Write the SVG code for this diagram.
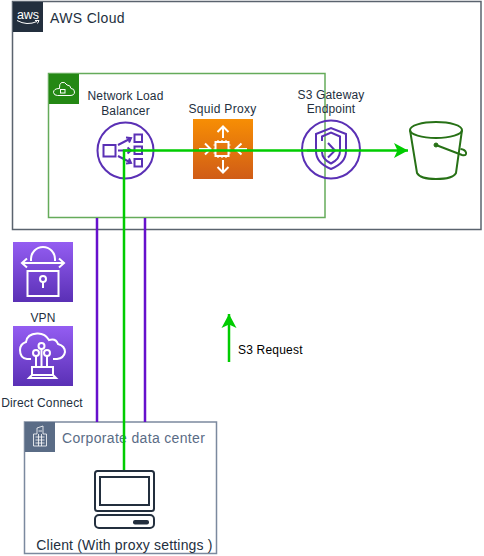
<svg xmlns="http://www.w3.org/2000/svg" width="484" height="556" viewBox="0 0 484 556">
<style>
text{font-family:"Liberation Sans",Arial,sans-serif;font-size:12px;fill:#232F3E;letter-spacing:.17px}
.c{text-anchor:middle}
.w{fill:none;stroke:#fff;stroke-width:2}
.p{fill:none;stroke:#5A30B5;stroke-width:2}
.g{fill:none;stroke:#277116;stroke-width:2}
.d{fill:none;stroke:#232F3E;stroke-width:2}
.vpnline{stroke:#6610CC;stroke-width:2.500;fill:none}
.req{stroke:#00CC00;stroke-width:2.500;fill:none}
</style>
<defs>
<linearGradient id="org" x1="0" y1="0" x2="0" y2="1"><stop offset="0" stop-color="#F78E04"/><stop offset="1" stop-color="#D05C17"/></linearGradient>
<linearGradient id="pur" x1="0" y1="0" x2="0" y2="1"><stop offset="0" stop-color="#945DF2"/><stop offset="1" stop-color="#5A30B5"/></linearGradient>
<marker id="ah" markerUnits="userSpaceOnUse" markerWidth="16" markerHeight="16" refX="14" refY="8" orient="auto"><path d="M0 0.500L14 8L0 15.500L3.500 8Z" fill="#00CC00"/></marker>
</defs>

<g id="aws-cloud">
<rect x="12.500" y="1.500" width="468.500" height="228" fill="#fff" stroke="#232F3E" stroke-opacity=".75" stroke-width="1.500"/>
<rect x="13" y="2" width="30" height="30" fill="#232F3E"/>
<text x="28" y="18.500" class="c" style="font-size:12.500px;fill:#fff;letter-spacing:0">aws</text>
<path d="M17 20.500Q27 26 37 21.500M35 20.500L39 20.500L37.500 23.500" fill="none" stroke="#fff" stroke-width="1"/>
<text x="50" y="23" style="font-size:14px;letter-spacing:.35px">AWS Cloud</text>
</g>

<g id="vpc">
<rect x="48.500" y="73.500" width="276.500" height="144" fill="none" stroke="#248814" stroke-opacity=".7" stroke-width="1.500"/>
<rect x="49" y="74" width="30" height="30" fill="#248814"/>
<path d="M57.500 95.500H70Q74.500 95.500 74.500 92Q74.500 88.500 71 88.500Q70.500 85 67 85Q65 81.500 61.500 82.500Q59 84 59.500 88.500Q53.500 88.500 53.500 92.500Q54 95.500 57.500 95.500Z" fill="none" stroke="#fff" stroke-width="1"/>
<rect x="60.500" y="89.500" width="4.500" height="3.500" fill="none" stroke="#fff" stroke-width="1"/>
</g>

<g id="nlb">
<circle cx="125.500" cy="150.500" r="28" class="p"/>
<rect x="103.500" y="145" width="12" height="11.500" class="p"/>
<rect x="134.500" y="134.500" width="7.500" height="7.500" class="p"/>
<rect x="134.500" y="146.500" width="7.500" height="7.500" class="p"/>
<rect x="134.500" y="159" width="7.500" height="7.500" class="p"/>
<path d="M118 145L130.500 138.500M126 137.500L131 138L129 142.500M118 150.500H130.500M127.500 147.500L131 150.500L127.500 153.500M118 156L130.500 162.500M129 158.500L131 163L126 163.500" class="p"/>
<text x="125.500" y="100" class="c">Network Load</text>
<text x="125.500" y="115" class="c">Balancer</text>
</g>

<g id="squid">
<rect x="193" y="119" width="60" height="60" fill="url(#org)"/>
<rect x="215.500" y="142" width="13" height="14" class="w"/>
<path d="M215.500 145H213.500M215.500 149H213.500M215.500 153H213.500M228.500 145H230.500M228.500 149H230.500M228.500 153H230.500M218 142V140M222 142V140M226 142V140M218 156V158M222 156V158M226 156V158" class="w" style="stroke-width:1.200"/>
<path d="M223 138V126.500M217.500 132L223 126.500L228.500 132M223 160V172.500M217.500 167L223 172.500L228.500 167M199 149H210M205 143.500L210.500 149L205 154.500M247 149H235.500M241.500 143.500L235.500 149L241.500 154.500" class="w"/>
<text x="222.500" y="113" class="c" style="letter-spacing:.3px">Squid Proxy</text>
</g>

<g id="s3-endpoint">
<circle cx="331" cy="149.500" r="29" class="p"/>
<path d="M316 134L331 128L346 134V151Q346 163 331 169Q316 163 316 151Z" class="p"/>
<path d="M322 141V136.500L331 132.500L340 136.500V151Q340 159 331 163.500Q322 159 322 152" class="p"/>
<path d="M334 150.500H307M328 143L335 150.500L328 157.500" class="p"/>
<text x="331" y="99" class="c">S3 Gateway</text>
<text x="331" y="113" class="c">Endpoint</text>
</g>

<g id="s3-bucket">
<ellipse cx="436" cy="130" rx="26" ry="8" class="g"/>
<path d="M410 130L417 173Q420 179 436 179Q453 179 456 173L462 130" class="g"/>
<circle cx="436" cy="145" r="2" fill="#277116" stroke="#277116"/>
<path d="M436 145L462 155Q467 156 466 152.500Q465 149.500 460.500 149" class="g"/>
</g>

<g id="vpn">
<rect x="13" y="242" width="60" height="60" fill="url(#pur)"/>
<rect x="27.500" y="271" width="31" height="25" class="w"/>
<path d="M31 261V259A12 12 0 0 1 55 259V261M22 263H64M27 258.500L22 263L27 267.500M59 258.500L64 263L59 267.500" class="w"/>
<circle cx="43" cy="279" r="3" class="w"/><path d="M43 282V288" class="w"/>
<text x="43" y="322" class="c">VPN</text>
</g>

<g id="direct-connect">
<rect x="13" y="326" width="60" height="60" fill="url(#pur)"/>
<path d="M31 359H27Q20 358 20 350Q20 344 26 342Q27 334 37 333.500Q45 333 49 340Q56 338 58 344Q65 346 65 352Q64 358 57 359H53" class="w"/>
<circle cx="41.500" cy="346" r="3" class="w"/><circle cx="36" cy="353" r="3" class="w"/><circle cx="47" cy="353" r="3" class="w"/>
<path d="M41.500 349V367M36 356V367M47 356V367M32 367H53V375H32ZM32 375L29 378H56L53 375" class="w"/>
<text x="42" y="407" class="c">Direct Connect</text>
</g>

<g id="corporate">
<rect x="24.500" y="422" width="192" height="131.500" fill="#fff" stroke="#5A6C86" stroke-opacity=".8" stroke-width="1.500"/>
<rect x="25" y="422" width="30" height="30" fill="#5A6C86"/>
<path d="M33.500 446V434H37V428L43 426V434H46.500V446ZM35.500 437H44.500M35.500 440H44.500M35.500 443H44.500M38.500 431H42M38.500 434V446M41.500 434V446" fill="none" stroke="#fff" stroke-width=".8"/>
<text x="62" y="443" style="font-size:14px;fill:#5A6C86;letter-spacing:.33px">Corporate data center</text>
</g>

<g id="client">
<rect x="95" y="471" width="59" height="40" rx="2.500" class="d"/>
<rect x="100" y="477" width="49" height="28" class="d"/>
<rect x="95" y="515" width="59" height="13" rx="4" class="d"/>
<rect x="133" y="520" width="16" height="4.500" rx="2" fill="#232F3E"/>
<text x="124.500" y="550" class="c" style="font-size:14px;letter-spacing:.18px">Client (With proxy settings )</text>
</g>

<g id="connectors">
<path d="M97 218V422M145 218V422" class="vpnline"/>
<path d="M124 470V150.500H408" class="req" marker-end="url(#ah)"/>
<path d="M229 362V314" class="req" marker-end="url(#ah)"/>
</g>

<text id="s3-request" x="238" y="354" style="fill:#000;letter-spacing:.2px">S3 Request</text>
</svg>
